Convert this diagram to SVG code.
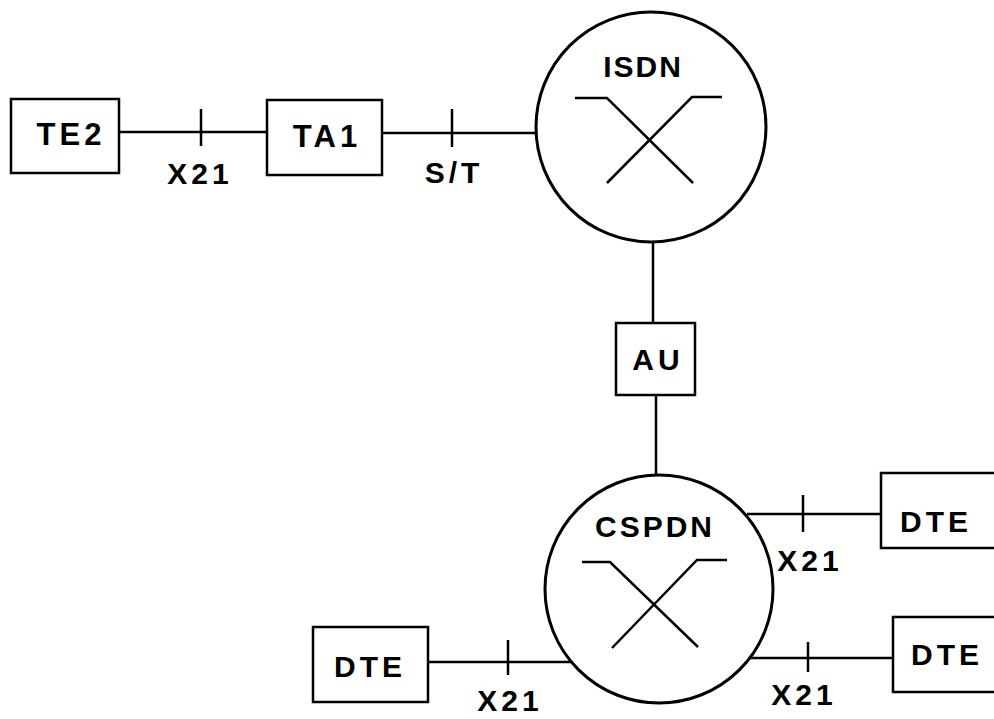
<svg xmlns="http://www.w3.org/2000/svg" width="994" height="719" viewBox="0 0 994 719">
<style>
.s{fill:none;stroke:#000;stroke-width:2.5}
.b{fill:#fff;stroke:#000;stroke-width:2.5}
.c{fill:#fff;stroke:#000;stroke-width:3}
text{font-family:"Liberation Sans",Arial,sans-serif;font-weight:bold;font-size:30px;letter-spacing:4px;text-anchor:middle;fill:#000}
</style>
<rect width="994" height="719" fill="#fff"/>
<g id="connectors">
<line class="s" x1="119" y1="132" x2="267" y2="132"/>
<line class="s" x1="201" y1="109" x2="201" y2="146"/>
<line class="s" x1="382" y1="133" x2="535" y2="133"/>
<line class="s" x1="452" y1="109" x2="452" y2="147"/>
<line class="s" x1="653" y1="242" x2="653" y2="323"/>
<line class="s" x1="656" y1="395" x2="656" y2="475"/>
<line class="s" x1="747" y1="514" x2="881" y2="514"/>
<line class="s" x1="803" y1="495" x2="803" y2="532"/>
<line class="s" x1="749" y1="658" x2="893" y2="658"/>
<line class="s" x1="808" y1="642" x2="808" y2="672"/>
<line class="s" x1="428" y1="662" x2="571" y2="662"/>
<line class="s" x1="508" y1="640" x2="508" y2="675"/>
<text x="200" y="184">X21</text>
<text x="454" y="183">S/T</text>
<text x="810" y="571">X21</text>
<text x="804" y="705">X21</text>
<text x="510" y="711">X21</text>
</g>
<g id="TE2">
<rect class="b" x="11" y="99" width="108" height="74"/>
<text x="71" y="145" style="font-size:31px">TE2</text>
</g>
<g id="TA1">
<rect class="b" x="267" y="100" width="115" height="75"/>
<text x="327" y="147" style="font-size:31px">TA1</text>
</g>
<g id="ISDN">
<circle class="c" cx="651" cy="127" r="115"/>
<text x="643" y="77" style="letter-spacing:2px">ISDN</text>
<polyline class="s" points="575,98 607,98 693,183"/>
<polyline class="s" points="722,97 692,97 607,183"/>
</g>
<g id="AU">
<rect class="b" x="616" y="323" width="79" height="72"/>
<text x="658" y="370">AU</text>
</g>
<g id="CSPDN">
<circle class="c" cx="659" cy="589" r="114"/>
<text x="655" y="537" style="letter-spacing:3px">CSPDN</text>
<polyline class="s" points="582,562 610,562 698,647"/>
<polyline class="s" points="727,560 697,560 612,648"/>
</g>
<g id="DTE1">
<rect class="b" x="881" y="473" width="120" height="75"/>
<text x="936" y="532">DTE</text>
</g>
<g id="DTE2">
<rect class="b" x="893" y="617" width="120" height="75"/>
<text x="947" y="665">DTE</text>
</g>
<g id="DTE3">
<rect class="b" x="313" y="627" width="115" height="75"/>
<text x="370" y="677">DTE</text>
</g>
</svg>
